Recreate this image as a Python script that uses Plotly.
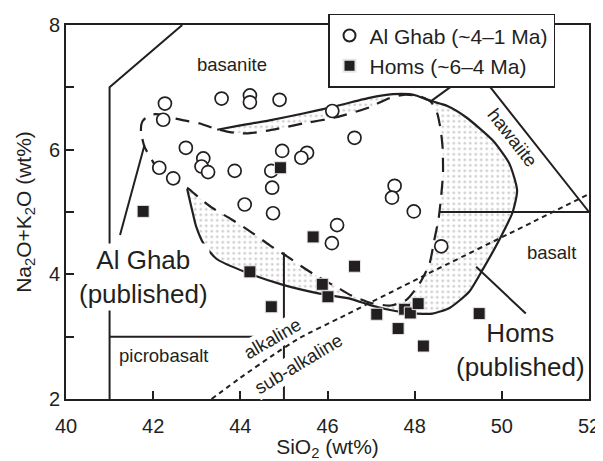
import plotly.graph_objects as go

INK = "#231f20"
FONT = "Liberation Sans, Arial, sans-serif"

# ---------------- data ----------------
# Al Ghab (~4-1 Ma) samples: SiO2, Na2O+K2O
alghab_sio2 = [42.27, 42.23, 43.57, 44.22, 44.22, 44.90, 46.11, 42.75, 43.15, 43.11,
               43.26, 43.87, 42.14, 42.46, 44.71, 44.73, 44.10, 44.75, 44.96, 45.53,
               45.40, 46.62, 47.54, 47.48, 47.98, 48.61, 46.22, 46.10]
alghab_alk = [6.74, 6.48, 6.82, 6.87, 6.76, 6.80, 6.62, 6.03, 5.86, 5.73,
              5.64, 5.66, 5.71, 5.54, 5.66, 5.39, 5.12, 4.98, 5.98, 5.95,
              5.87, 6.19, 5.42, 5.23, 5.01, 4.45, 4.79, 4.50]

# Homs (~6-4 Ma) samples
homs_sio2 = [41.77, 44.92, 45.67, 44.22, 44.71, 45.88, 46.01, 46.62, 47.13, 47.77,
             47.90, 48.08, 47.62, 48.20, 49.48]
homs_alk = [5.01, 5.71, 4.60, 4.04, 3.48, 3.84, 3.64, 4.13, 3.36, 3.44,
            3.38, 3.53, 3.13, 2.85, 3.37]

# Published Al Ghab field (dashed outline)
ag_field_x = [41.80, 41.72, 41.75, 41.88, 42.05, 42.25, 42.45, 42.70, 43.07, 43.41,
              43.76, 44.14, 44.67, 45.44, 46.20, 46.96, 47.40, 47.75, 48.10, 48.38,
              48.52, 48.60, 48.64, 48.65, 48.60, 48.55, 48.45, 48.34, 48.11, 47.81,
              47.45, 47.00, 46.55, 46.20, 45.78, 45.40, 45.09, 44.67, 44.18, 43.80,
              43.37, 43.07, 42.80, 42.46, 42.15, 42.00, 41.80]
ag_field_y = [6.05, 6.30, 6.45, 6.54, 6.57, 6.55, 6.51, 6.47, 6.42, 6.34,
              6.28, 6.26, 6.31, 6.42, 6.52, 6.68, 6.82, 6.88, 6.86, 6.76,
              6.58, 6.30, 6.04, 5.62, 5.20, 4.90, 4.55, 4.17, 3.85, 3.59,
              3.50, 3.54, 3.66, 3.80, 3.96, 4.13, 4.28, 4.47, 4.71, 4.88,
              5.06, 5.22, 5.38, 5.53, 5.64, 5.80, 6.05]

# Published Homs field (solid outline, visible part)
homs_field_x = [42.78, 42.84, 42.92, 42.99, 43.15, 43.45, 44.10, 44.98, 45.82, 46.51,
                46.96, 47.35, 47.75, 48.05, 48.41, 48.80, 49.25, 49.58, 49.94, 50.25,
                50.35, 50.17, 49.79, 49.18, 48.75, 48.38, 48.03, 47.88, 47.50, 46.96,
                46.09, 45.44, 44.67, 44.00, 43.47]
homs_field_y = [5.37, 5.19, 4.95, 4.76, 4.50, 4.25, 4.04, 3.83, 3.69, 3.61,
                3.51, 3.44, 3.39, 3.37, 3.37, 3.46, 3.72, 4.10, 4.55, 5.00,
                5.35, 5.78, 6.15, 6.52, 6.70, 6.78, 6.87, 6.89, 6.89, 6.83,
                6.68, 6.58, 6.47, 6.39, 6.32]

# TAS field boundaries
tas_basanite_x = [41, 41, 42.667]
tas_basanite_y = [2, 7, 8]
tas_picro_x = [41, 45]
tas_picro_y = [3, 3]
tas_basalt_x = [45, 45]
tas_basalt_y = [2, 4.35]
tas_basalt_top_x = [48.57, 52]
tas_basalt_top_y = [5, 5]
tas_hawaiite_x = [48.36, 49.4, 52]
tas_hawaiite_y = [6.77, 7.3, 5]

# Alkaline / sub-alkaline divide (dotted)
alk_line_x = [43.34, 44.0, 44.7, 45.36, 46.28, 48.19, 50.71, 52.0]
alk_line_y = [2.00, 2.34, 2.68, 2.98, 3.30, 3.97, 4.84, 5.29]

# Label pointer lines
ag_pointer_x = [41.24, 41.80]
ag_pointer_y = [4.63, 6.07]
homs_pointer_x = [49.41, 50.55]
homs_pointer_y = [4.12, 3.37]

x_ticks = [40, 42, 44, 46, 48, 50, 52]
y_ticks = [2, 3, 4, 5, 6, 7, 8]
y_ticktext = ["2", "", "4", "", "6", "", "8"]

# ---------------- figure ----------------
fig = go.Figure()

# stippled Homs field
fig.add_trace(go.Scatter(
    x=homs_field_x + [homs_field_x[0]], y=homs_field_y + [homs_field_y[0]],
    mode="lines", fill="toself", line=dict(width=0), fillcolor="white",
    fillpattern=dict(shape=".", size=5.5, solidity=0.22, fgcolor="#a0a0a0",
                     bgcolor="white"),
    hoverinfo="skip", showlegend=False))

# Al Ghab field blanked white
fig.add_trace(go.Scatter(
    x=ag_field_x, y=ag_field_y, mode="lines", fill="toself", fillcolor="white",
    line=dict(width=0), hoverinfo="skip", showlegend=False))

line_style = dict(color=INK, width=2)

# Homs outline
fig.add_trace(go.Scatter(x=homs_field_x, y=homs_field_y, mode="lines",
                         line=dict(color=INK, width=2.2, shape="spline", smoothing=0.6),
                         hoverinfo="skip", showlegend=False))
# Al Ghab outline (dashed)
fig.add_trace(go.Scatter(x=ag_field_x, y=ag_field_y, mode="lines",
                         line=dict(color=INK, width=2.2, dash="14px,9px",
                                   shape="spline", smoothing=0.6),
                         hoverinfo="skip", showlegend=False))

for xs, ys in [(tas_basanite_x, tas_basanite_y), (tas_picro_x, tas_picro_y),
               (tas_basalt_x, tas_basalt_y), (tas_basalt_top_x, tas_basalt_top_y),
               (tas_hawaiite_x, tas_hawaiite_y), (ag_pointer_x, ag_pointer_y),
               (homs_pointer_x, homs_pointer_y)]:
    fig.add_trace(go.Scatter(x=xs, y=ys, mode="lines", line=line_style,
                             hoverinfo="skip", showlegend=False))

fig.add_trace(go.Scatter(x=alk_line_x, y=alk_line_y, mode="lines",
                         line=dict(color=INK, width=2, dash="5px,4px", shape="spline",
                                   smoothing=0.5),
                         hoverinfo="skip", showlegend=False))

# samples
fig.add_trace(go.Scatter(x=alghab_sio2, y=alghab_alk, mode="markers",
                         name="Al Ghab (~4\u20131 Ma)",
                         marker=dict(symbol="circle", size=13, color="white",
                                     line=dict(color=INK, width=1.7))))
fig.add_trace(go.Scatter(x=homs_sio2, y=homs_alk, mode="markers",
                         name="Homs (~6\u20134 Ma)",
                         marker=dict(symbol="square", size=12, color=INK,
                                     line=dict(color="#e6e6e6", width=1))))

def label(x, y, text, size=18.5, angle=0, bg=None):
    fig.add_annotation(x=x, y=y, xref="x", yref="y", text=text, showarrow=False,
                       textangle=angle, font=dict(family=FONT, size=size, color=INK),
                       bgcolor=bg if bg else "rgba(0,0,0,0)", borderpad=1)

label(43.8, 7.37, "basanite")
label(50.25, 6.2, "hawaiite", angle=52)
label(51.13, 4.35, "basalt")
label(42.23, 2.69, "picrobasalt")
label(44.73, 2.97, "alkaline", angle=-30, bg="white")
label(45.34, 2.57, "sub-alkaline", angle=-31, bg="white")
label(41.77, 3.95, "Al Ghab<br>(published)", size=26, bg="white")
label(50.42, 2.78, "Homs<br>(published)", size=26)

axis_common = dict(showline=True, linecolor=INK, linewidth=2, mirror=True,
                   ticks="inside", ticklen=8, tickwidth=2, tickcolor=INK,
                   showgrid=False, zeroline=False, automargin=False,
                   tickfont=dict(family=FONT, size=20, color=INK))

fig.update_xaxes(range=[40, 52], tickvals=x_ticks, ticklabelstandoff=8, **axis_common,
                 title=dict(text="SiO<sub>2</sub> (wt%)", standoff=4,
                            font=dict(family=FONT, size=21, color=INK)))
fig.update_yaxes(range=[2, 8], tickvals=y_ticks, ticktext=y_ticktext, **axis_common,
                 title=dict(text="Na<sub>2</sub>O+K<sub>2</sub>O (wt%)", standoff=12,
                            font=dict(family=FONT, size=21, color=INK)))

# page body adds an 8px offset; size/margins compensate so the plot box lands
# at the reference position
fig.update_layout(
    width=595, height=453,
    margin=dict(l=58, r=14, t=17, b=62, autoexpand=False),
    paper_bgcolor="white", plot_bgcolor="white",
    font=dict(family=FONT, color=INK),
    legend=dict(x=0.501, y=1.03, xanchor="left", yanchor="top",
                bgcolor="white", bordercolor=INK, borderwidth=1.5,
                font=dict(family=FONT, size=21, color=INK),
                itemsizing="constant", tracegroupgap=0),
)

fig.write_html("out.html")
